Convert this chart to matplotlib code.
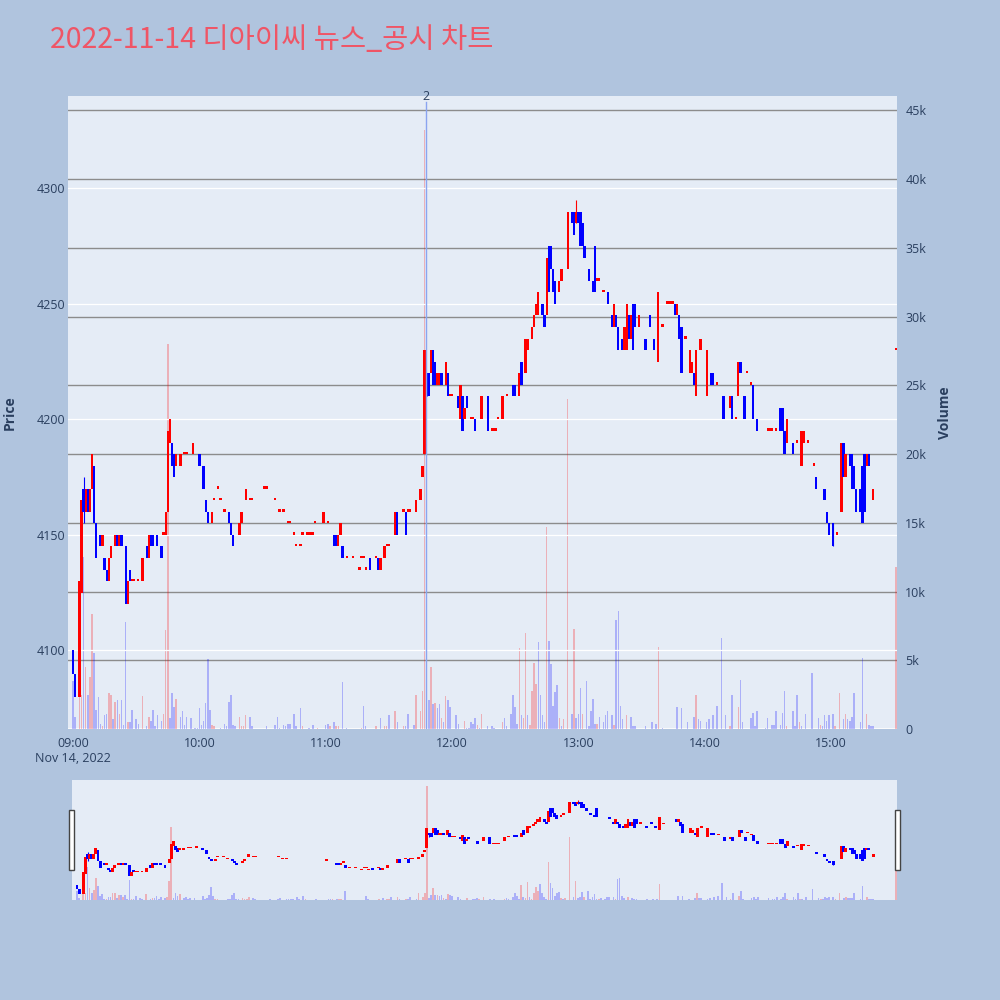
import matplotlib
matplotlib.use("Agg")
import matplotlib.pyplot as plt
import matplotlib.transforms as mtrans
from matplotlib.patches import Rectangle
import numpy as np

plt.rcParams['font.family'] = ['Open Sans', 'DejaVu Sans']

# candles: minute after 09:00, open, close (1-minute bars, 2022-11-14)
c_min = [0, 1, 3, 4, 5, 6, 7, 8, 9, 10,
         11, 13, 14, 15, 16, 17, 18, 20, 21, 22,
         23, 25, 26, 27, 28, 29, 31, 33, 35, 36,
         37, 38, 40, 42, 43, 44, 45, 46, 47, 48,
         49, 51, 53, 54, 57, 60, 62, 63, 64, 66,
         67, 69, 70, 72, 74, 75, 76, 79, 80, 82,
         84, 85, 91, 92, 96, 98, 100, 102, 103, 105,
         106, 108, 109, 111, 112, 113, 114, 115, 119, 121,
         124, 125, 126, 127, 128, 130, 133, 136, 137, 138,
         139, 141, 144, 145, 146, 148, 149, 150, 153, 154,
         157, 158, 159, 160, 163, 165, 166, 167, 168, 169,
         170, 171, 172, 173, 174, 175, 177, 178, 179, 180,
         183, 184, 185, 186, 187, 189, 190, 191, 194, 197,
         199, 200, 201, 202, 204, 206, 209, 210, 212, 213,
         215, 216, 218, 219, 220, 221, 223, 224, 225, 226,
         227, 228, 229, 231, 232, 235, 237, 238, 239, 240,
         241, 242, 243, 245, 247, 248, 249, 250, 252, 254,
         256, 257, 258, 259, 261, 262, 263, 264, 265, 266,
         267, 269, 272, 274, 276, 278, 280, 282, 283, 284,
         285, 286, 287, 288, 289, 291, 293, 294, 295, 296,
         298, 301, 303, 304, 306, 309, 312, 313, 315, 316,
         317, 319, 320, 322, 323, 325, 330, 331, 332, 334,
         336, 337, 338, 339, 342, 344, 346, 347, 349, 352,
         353, 357, 358, 359, 361, 363, 365, 366, 367, 369,
         370, 371, 372, 374, 375, 376, 377, 378, 380, 391]
c_open = [4100, 4090, 4080, 4125, 4170, 4160, 4170, 4160, 4170, 4180,
          4155, 4150, 4145, 4140, 4135, 4130, 4140, 4145, 4150, 4145,
          4150, 4145, 4120, 4135, 4130, 4130, 4130, 4130, 4145, 4140,
          4150, 4150, 4150, 4145, 4150, 4150, 4160, 4190, 4190, 4185,
          4180, 4180, 4185, 4185, 4185, 4185, 4180, 4165, 4160, 4155,
          4165, 4170, 4165, 4160, 4160, 4155, 4150, 4150, 4155, 4165,
          4165, 4165, 4170, 4170, 4165, 4160, 4160, 4155, 4155, 4150,
          4145, 4145, 4150, 4150, 4150, 4150, 4150, 4155, 4155, 4155,
          4150, 4150, 4145, 4150, 4145, 4140, 4140, 4135, 4140, 4140,
          4135, 4140, 4140, 4140, 4135, 4140, 4145, 4145, 4150, 4160,
          4160, 4160, 4160, 4160, 4160, 4165, 4175, 4185, 4220, 4220,
          4220, 4230, 4225, 4215, 4215, 4220, 4215, 4220, 4210, 4210,
          4210, 4200, 4210, 4200, 4210, 4200, 4200, 4200, 4200, 4210,
          4195, 4195, 4195, 4200, 4200, 4210, 4215, 4215, 4210, 4225,
          4220, 4230, 4235, 4240, 4245, 4245, 4250, 4245, 4245, 4275,
          4275, 4265, 4260, 4255, 4260, 4265, 4290, 4290, 4285, 4290,
          4290, 4285, 4275, 4265, 4260, 4275, 4260, 4260, 4255, 4255,
          4245, 4240, 4245, 4240, 4235, 4230, 4230, 4245, 4235, 4250,
          4250, 4240, 4235, 4245, 4235, 4225, 4240, 4250, 4250, 4250,
          4250, 4250, 4245, 4245, 4240, 4235, 4220, 4220, 4220, 4210,
          4230, 4210, 4220, 4220, 4215, 4210, 4205, 4210, 4200, 4210,
          4225, 4210, 4220, 4215, 4215, 4200, 4195, 4195, 4195, 4195,
          4205, 4205, 4195, 4190, 4190, 4190, 4180, 4190, 4190, 4180,
          4175, 4170, 4160, 4155, 4155, 4150, 4160, 4190, 4175, 4185,
          4185, 4180, 4170, 4170, 4180, 4185, 4180, 4185, 4165, 4230]
c_close = [4090, 4080, 4130, 4165, 4160, 4170, 4160, 4170, 4185, 4155,
           4140, 4145, 4150, 4135, 4130, 4140, 4145, 4150, 4145, 4150,
           4145, 4120, 4130, 4130, 4130, 4130, 4130, 4140, 4140, 4150,
           4145, 4145, 4145, 4140, 4150, 4160, 4195, 4200, 4180, 4175,
           4185, 4185, 4185, 4185, 4190, 4180, 4170, 4160, 4155, 4160,
           4165, 4170, 4165, 4160, 4155, 4150, 4145, 4155, 4160, 4170,
           4165, 4165, 4170, 4170, 4165, 4160, 4160, 4155, 4155, 4150,
           4145, 4145, 4150, 4150, 4150, 4150, 4150, 4155, 4160, 4155,
           4145, 4145, 4150, 4155, 4140, 4140, 4140, 4135, 4140, 4140,
           4135, 4135, 4140, 4135, 4140, 4145, 4145, 4145, 4160, 4150,
           4160, 4150, 4160, 4160, 4165, 4170, 4180, 4230, 4215, 4210,
           4230, 4215, 4215, 4220, 4220, 4215, 4225, 4210, 4210, 4210,
           4205, 4215, 4195, 4205, 4205, 4200, 4200, 4195, 4210, 4195,
           4195, 4195, 4195, 4200, 4210, 4210, 4210, 4210, 4220, 4215,
           4235, 4235, 4240, 4245, 4250, 4255, 4245, 4240, 4270, 4255,
           4265, 4255, 4250, 4260, 4265, 4290, 4285, 4280, 4290, 4285,
           4275, 4275, 4270, 4260, 4255, 4255, 4260, 4260, 4255, 4250,
           4240, 4250, 4240, 4230, 4230, 4240, 4250, 4235, 4245, 4230,
           4240, 4245, 4230, 4240, 4230, 4255, 4240, 4250, 4250, 4250,
           4250, 4245, 4250, 4235, 4220, 4235, 4230, 4225, 4215, 4230,
           4235, 4230, 4215, 4215, 4215, 4200, 4210, 4200, 4200, 4225,
           4220, 4200, 4220, 4215, 4200, 4195, 4195, 4195, 4195, 4195,
           4195, 4195, 4185, 4200, 4185, 4190, 4195, 4195, 4190, 4180,
           4170, 4165, 4155, 4150, 4145, 4150, 4190, 4175, 4185, 4180,
           4170, 4170, 4160, 4160, 4155, 4160, 4185, 4180, 4170, 4230]

# wicks that stick out of the bodies
w_min = [5, 168, 239, 361]
w_high = [4175, 4220, 4295, 4155]
w_low = [4155, 4210, 4285, 4145]

# volume (thousand shares) per minute, 1 = red bar, 0 = blue bar
v_min = [0, 1, 3, 4, 5, 6, 7, 8, 9, 10, 11, 12, 13, 14, 15, 16, 17, 18, 19, 20,
         21, 22, 23, 24, 25, 26, 27, 28, 30, 31, 33, 35, 36, 37, 38, 39, 40, 42, 43, 44,
         45, 46, 47, 48, 49, 51, 52, 53, 54, 56, 58, 59, 60, 61, 62, 63, 64, 65, 66, 67,
         70, 72, 73, 74, 75, 76, 77, 79, 80, 81, 82, 84, 85, 92, 96, 97, 98, 100, 101, 102,
         103, 105, 106, 108, 109, 112, 114, 116, 120, 121, 122, 124, 125, 126, 128, 130, 137, 138, 139, 144,
         146, 148, 149, 150, 153, 154, 157, 158, 159, 162, 163, 165, 166, 167, 168, 169, 170, 171, 172, 173,
         174, 175, 176, 177, 178, 179, 182, 183, 186, 187, 188, 189, 190, 191, 192, 193, 194, 197, 199, 200,
         204, 205, 206, 208, 209, 210, 211, 212, 213, 214, 215, 216, 217, 218, 219, 220, 221, 222, 223, 224,
         225, 226, 227, 228, 229, 230, 231, 232, 233, 235, 237, 238, 239, 240, 241, 242, 244, 245, 246, 247,
         248, 249, 250, 252, 253, 254, 256, 257, 258, 259, 260, 261, 263, 265, 266, 267, 272, 275, 277, 278,
         280, 287, 289, 292, 295, 296, 297, 298, 301, 302, 304, 306, 308, 310, 312, 313, 316, 317, 318, 322,
         323, 324, 325, 329, 330, 332, 333, 334, 336, 337, 338, 339, 342, 343, 344, 345, 346, 348, 351, 354,
         355, 356, 357, 358, 359, 361, 362, 364, 366, 367, 368, 369, 370, 371, 374, 375, 377, 378, 379, 380,
         391]
v_k = [3.5, 0.9, 3.0, 2.5, 12.5, 4.5, 2.5, 3.8, 8.4, 5.5, 1.4, 2.3, 0.4, 0.2, 1.0, 1.1, 2.6, 2.5, 0.7, 2.0,
       2.1, 1.1, 2.1, 0.3, 7.8, 0.5, 0.5, 1.4, 0.7, 0.4, 2.4, 0.2, 0.9, 0.6, 1.4, 0.2, 1.0, 0.6, 1.1, 7.2,
       28.0, 0.8, 2.6, 1.6, 2.2, 0.9, 1.3, 0.3, 0.9, 0.8, 0.1, 0.1, 1.5, 0.3, 0.6, 1.9, 5.1, 1.4, 0.3, 0.2,
       0.1, 0.4, 0.2, 2.0, 2.5, 0.3, 0.2, 0.9, 0.2, 0.2, 1.0, 0.9, 0.2, 0.2, 0.3, 0.9, 0.1, 0.3, 0.2, 0.4,
       0.4, 1.1, 0.2, 1.5, 0.2, 0.1, 0.3, 0.1, 0.3, 0.4, 0.2, 0.5, 0.2, 0.2, 3.4, 0.1, 0.1, 1.7, 0.2, 0.2,
       0.8, 0.2, 0.2, 1.0, 1.3, 0.5, 0.2, 0.2, 1.1, 0.3, 2.5, 1.3, 2.8, 43.6, 0.6, 2.1, 4.5, 1.8, 1.9, 1.5,
       1.8, 0.8, 0.5, 2.4, 2.1, 1.6, 1.0, 0.4, 0.6, 0.1, 0.1, 0.5, 0.4, 0.8, 0.3, 0.1, 1.1, 0.2, 0.2, 0.1,
       0.5, 0.8, 0.2, 1.1, 2.5, 1.6, 0.4, 5.9, 1.0, 0.8, 7.0, 1.0, 0.3, 2.8, 4.8, 3.3, 6.3, 2.5, 1.0, 0.5,
       14.7, 6.4, 4.7, 1.7, 2.7, 3.2, 0.8, 0.2, 0.7, 24.0, 1.1, 7.3, 0.8, 1.1, 3.0, 1.1, 3.5, 0.2, 1.3, 2.2,
       0.4, 0.4, 0.9, 0.5, 1.0, 1.3, 1.0, 0.3, 7.9, 8.6, 1.7, 0.7, 1.0, 0.9, 0.2, 0.2, 0.2, 0.5, 0.4, 6.0,
       0.1, 1.6, 1.5, 0.5, 0.9, 2.5, 0.7, 0.6, 0.5, 0.7, 1.0, 1.7, 6.6, 1.0, 0.2, 2.5, 1.6, 3.6, 0.5, 0.8,
       1.2, 0.2, 1.3, 0.1, 0.8, 0.3, 0.3, 1.3, 0.3, 1.2, 2.8, 0.2, 1.3, 0.2, 2.5, 0.5, 0.2, 1.1, 4.1, 0.8,
       0.3, 0.2, 1.0, 0.6, 1.0, 1.1, 0.2, 2.6, 0.7, 1.1, 0.7, 0.6, 0.9, 2.6, 0.5, 5.2, 1.1, 0.3, 0.2, 0.2,
       11.8]
v_up = [0, 0, 1, 1, 0, 1, 0, 1, 1, 0, 0, 0, 0, 1, 0, 0, 1, 1, 0, 1,
        0, 1, 0, 0, 0, 1, 0, 0, 0, 0, 1, 0, 1, 0, 0, 0, 0, 0, 1, 1,
        1, 0, 0, 0, 1, 0, 0, 0, 0, 0, 0, 0, 0, 0, 0, 0, 0, 0, 1, 1,
        0, 0, 0, 0, 0, 0, 0, 1, 1, 1, 1, 0, 0, 0, 0, 0, 0, 0, 0, 0,
        0, 0, 0, 0, 1, 0, 0, 1, 0, 0, 1, 0, 1, 1, 0, 0, 1, 0, 0, 1,
        0, 1, 1, 0, 1, 0, 1, 0, 0, 0, 1, 1, 1, 1, 0, 0, 1, 0, 1, 0,
        0, 1, 0, 1, 0, 0, 0, 0, 1, 0, 0, 0, 0, 0, 1, 0, 1, 0, 0, 0,
        1, 0, 0, 0, 0, 0, 0, 1, 0, 1, 1, 0, 1, 1, 1, 1, 0, 0, 0, 0,
        1, 0, 0, 0, 0, 0, 1, 0, 1, 1, 0, 1, 0, 0, 0, 1, 0, 0, 0, 0,
        0, 1, 0, 0, 0, 0, 0, 1, 0, 0, 0, 0, 1, 0, 0, 0, 0, 0, 0, 1,
        0, 0, 0, 0, 0, 1, 0, 0, 0, 0, 0, 0, 0, 0, 1, 0, 1, 0, 0, 0,
        0, 0, 0, 0, 0, 0, 0, 0, 0, 0, 0, 1, 0, 0, 0, 1, 0, 0, 0, 0,
        1, 0, 0, 0, 0, 0, 1, 1, 0, 1, 0, 0, 0, 0, 0, 0, 1, 0, 0, 0,
        1]

news_min = 167.7
news_label = '2'

time_ticks = [0, 60, 120, 180, 240, 300, 360]
time_labels = ['09:00', '10:00', '11:00', '12:00', '13:00', '14:00', '15:00']
price_ticks = [4100, 4150, 4200, 4250, 4300]
vol_ticks = [0, 5000, 10000, 15000, 20000, 25000, 30000, 35000, 40000, 45000]
vol_labels = ['0', '5k', '10k', '15k', '20k', '25k', '30k', '35k', '40k', '45k']

BG = '#B0C4DE'
PLOT_BG = '#E5ECF6'
TXT = '#2a3f5f'
XLIM = (-2.4, 391.4)
PLIM = (4066, 4340)
VLIM = (0, 46040)


def draw_candles(ax, width=1.1):
    o = np.array(c_open, dtype=float)
    c = np.array(c_close, dtype=float)
    lo = np.minimum(o, c)
    h = np.abs(c - o)
    h[h == 0] = 1.1
    cols = ['#FF0000' if cc >= oo else '#0000FF' for oo, cc in zip(o, c)]
    wcol = ['#FF0000' if c_close[c_min.index(m)] >= c_open[c_min.index(m)] else '#0000FF'
            for m in w_min]
    ax.vlines(w_min, w_low, w_high, colors=wcol, lw=0.8, zorder=3)
    ax.bar(c_min, h, bottom=lo, width=width, color=cols, linewidth=0, zorder=4)


def draw_volume(ax, width=0.7):
    cols = [(1, 0, 0, 0.25) if u else (0, 0, 1, 0.25) for u in v_up]
    ax.bar(v_min, np.array(v_k) * 1000, width=width, color=cols, linewidth=0, zorder=2)


fig = plt.figure(figsize=(10, 10), dpi=100, facecolor=BG)

rect = [0.068, 0.271, 0.829, 0.633]
ax_v = fig.add_axes(rect)
ax_v.set_facecolor(PLOT_BG)
ax_p = fig.add_axes(rect, sharex=ax_v)
ax_p.patch.set_visible(False)

# volume axis (right)
draw_volume(ax_v)
ax_v.set_ylim(*VLIM)
ax_v.set_yticks(vol_ticks)
ax_v.set_yticklabels(vol_labels)
ax_v.yaxis.tick_right()
ax_v.yaxis.grid(True, color='#8c8c8c', lw=1.0, zorder=0)
ax_v.axhline(0, color='white', lw=2, zorder=1)
ax_v.set_axisbelow(True)
ax_v.tick_params(axis='y', length=0, pad=6, labelsize=9, labelcolor=TXT)
ax_v.tick_params(axis='x', length=0, labelbottom=False)
for s in ax_v.spines.values():
    s.set_visible(False)

# price axis (left)
draw_candles(ax_p)
ax_p.set_xlim(*XLIM)
ax_p.set_ylim(*PLIM)
ax_p.set_yticks(price_ticks)
ax_p.set_xticks(time_ticks)
ax_p.set_xticklabels(time_labels)
ax_p.yaxis.grid(True, color='white', lw=0.9)
ax_p.set_axisbelow(True)
ax_p.tick_params(axis='y', length=0, pad=2, labelsize=9, labelcolor=TXT)
ax_p.tick_params(axis='x', length=0, pad=6, labelsize=9, labelcolor=TXT)
for s in ax_p.spines.values():
    s.set_visible(False)

# news marker
ax_p.axvline(news_min, ymin=0, ymax=0.99, color='#8aa4f0', lw=1, zorder=5)
tr = mtrans.blended_transform_factory(ax_p.transData, ax_p.transAxes)
ax_p.text(news_min, 1.0, news_label, transform=tr, ha='center', va='center',
          fontsize=9, color=TXT)

fig.text(0.073, 0.242, 'Nov 14, 2022', ha='center', va='center', fontsize=9, color=TXT)
fig.text(0.010, 0.587, 'Price', rotation=90, ha='center', va='center',
         fontsize=10, fontweight='bold', color=TXT)
fig.text(0.945, 0.587, 'Volume', rotation=90, ha='center', va='center',
         fontsize=10, fontweight='bold', color=TXT)

fig.text(0.050, 0.960, '2022-11-14 디아이씨 뉴스_공시 차트', ha='left', va='center',
         fontsize=20.5, color='#ef5566', family=['Noto Sans CJK KR', 'DejaVu Sans'])

# range slider
srect = [0.072, 0.100, 0.825, 0.120]
ax_sv = fig.add_axes(srect)
ax_sv.set_facecolor(PLOT_BG)
draw_volume(ax_sv, width=0.8)
ax_sv.set_ylim(*VLIM)
ax_s = fig.add_axes(srect, sharex=ax_sv)
ax_s.patch.set_visible(False)
draw_candles(ax_s, width=1.4)
ax_s.set_xlim(*XLIM)
ax_s.set_ylim(*PLIM)
for a in (ax_sv, ax_s):
    a.set_xticks([])
    a.set_yticks([])
    for s in a.spines.values():
        s.set_visible(False)

for hx in (0.069, 0.895):
    fig.patches.append(Rectangle((hx, 0.130), 0.0045, 0.060, transform=fig.transFigure,
                                 facecolor='white', edgecolor='#444444', lw=1, zorder=10))

fig.savefig('out.png', dpi=100, facecolor=BG)
